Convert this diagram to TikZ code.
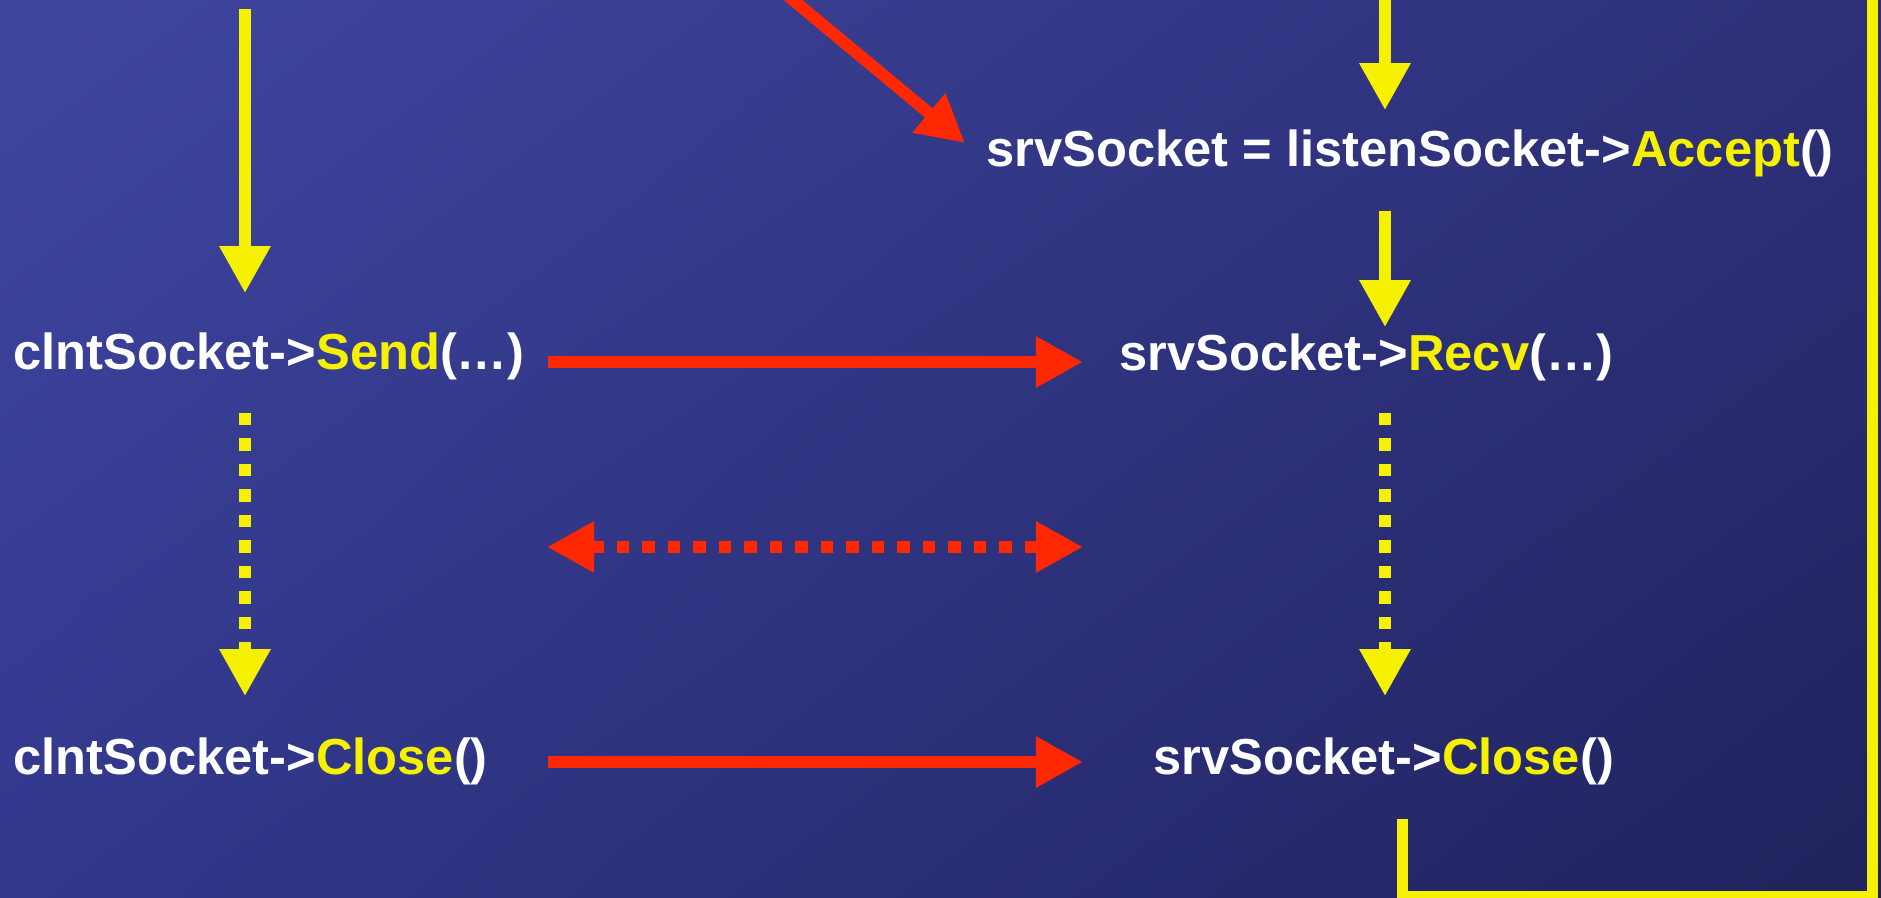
\documentclass[tikz,border=0pt]{standalone}
\usepackage{fontspec}
\setmainfont{Liberation Sans}
\usetikzlibrary{arrows.meta,shadings}

\definecolor{bgtl}{RGB}{63,70,160}
\definecolor{bgtr}{RGB}{45,48,120}
\definecolor{bgbl}{RGB}{50,56,140}
\definecolor{bgbr}{RGB}{32,34,92}
\definecolor{fnyellow}{RGB}{245,241,0}
\definecolor{msgred}{RGB}{255,40,0}

\newcommand{\meth}[1]{\textcolor{fnyellow}{#1}}

\begin{document}
\begin{tikzpicture}[x=0.01cm, y=-0.01cm,
    >={Triangle[length=0.47cm,width=0.48cm]},
    code/.style={inner sep=0pt, anchor=base west, text=white,
      text height=0.36cm, text depth=0.1cm,
      font=\fontsize{14.4}{17}\selectfont\bfseries},
    flow/.style={draw=fnyellow, line width=0.12cm, ->},
    wait/.style={flow, dash pattern=on 0.125cm off 0.13cm},
    msg/.style={draw=msgred, line width=0.12cm, ->},
    loopline/.style={draw=fnyellow, line width=0.11cm}]

    \useasboundingbox (0,0) rectangle (1881,898);
    \clip (0,0) rectangle (1881,898);
    \shade[upper left=bgtl, upper right=bgtr, lower left=bgbl, lower right=bgbr]
        (0,0) rectangle (1881,898);

    % calls
    \node[code] (accept) at (986,167) {srvSocket = listenSocket->\meth{Accept}()};
    \node[code] (send)   at (13,370)   {clntSocket->\meth{Send}(…)};
    \node[code] (recv)   at (1119,371) {srvSocket->\meth{Recv}(…)};
    \node[code] (cclose) at (13,775)   {clntSocket->\meth{Close}()};
    \node[code] (sclose) at (1153,775) {srvSocket->\meth{Close}()};

    \coordinate (ctop)    at (245,9);
    \coordinate (stop)    at (1385,-10);
    \coordinate (listen)  at (775,-15);
    \coordinate (gapl)    at (547,547);
    \coordinate (gapr)    at (1083,547);
    \coordinate (back)    at (1402,819);
    \coordinate (loopend) at (1872,-10);

    % client side
    \draw[flow] (ctop) -- ([yshift=0.4cm]ctop |- send.north);
    \draw[wait] ([yshift=-0.32cm]ctop |- send.south) -- ([yshift=0.42cm]ctop |- cclose.north);

    % server side
    \draw[flow] (stop) -- ([yshift=0.2cm]stop |- accept.north);
    \draw[flow] ([yshift=-0.33cm]stop |- accept.south) -- ([yshift=0.07cm]stop |- recv.north);
    \draw[wait] ([yshift=-0.31cm]stop |- recv.south) -- ([yshift=0.42cm]stop |- sclose.north);
    \draw[loopline] (back) |- (1872,897) -- (loopend);

    % messages
    \draw[msg] (listen) -- ([shift={(-0.21cm,0.11cm)}]accept.west);
    \draw[msg] ([xshift=0.23cm,yshift=-0.05cm]send.east) -- ([xshift=-0.36cm,yshift=-0.05cm]send.east -| recv.west);
    \draw[msg, <->, dash pattern=on 0.125cm off 0.13cm] (gapl) -- (gapr);
    \draw[msg] ([xshift=0.23cm]send.east |- cclose.east) -- ([xshift=-0.36cm]recv.west |- cclose.east);
\end{tikzpicture}
\end{document}
